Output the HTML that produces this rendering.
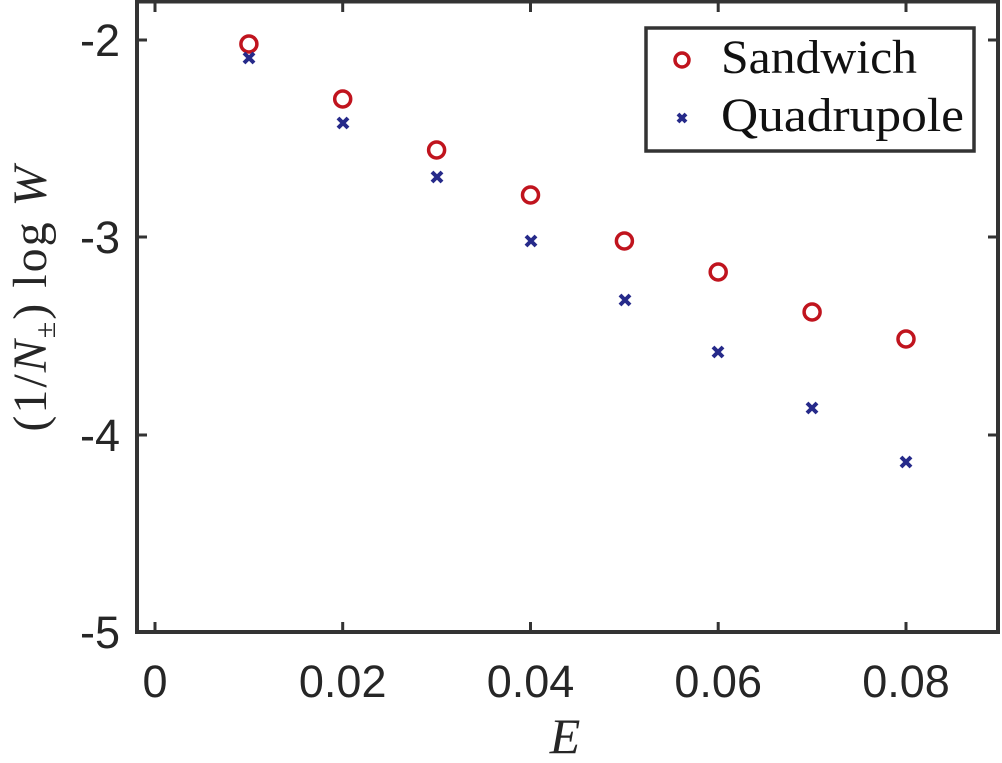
<!DOCTYPE html>
<html><head><meta charset="utf-8"><style>body{margin:0;background:#fff}</style></head><body>
<svg width="1002" height="758" xmlns="http://www.w3.org/2000/svg">
<g stroke="#333" stroke-width="4" fill="none">
<rect x="137" y="1.5" width="861" height="630.5"/>
</g>
<g stroke="#333" stroke-width="3">
<line x1="155" y1="632" x2="155" y2="622"/><line x1="342.7" y1="632" x2="342.7" y2="622"/><line x1="530.5" y1="632" x2="530.5" y2="622"/><line x1="718.2" y1="632" x2="718.2" y2="622"/><line x1="906" y1="632" x2="906" y2="622"/>
<line x1="155" y1="2" x2="155" y2="12"/><line x1="342.7" y1="2" x2="342.7" y2="12"/><line x1="530.5" y1="2" x2="530.5" y2="12"/><line x1="718.2" y1="2" x2="718.2" y2="12"/><line x1="906" y1="2" x2="906" y2="12"/>
<line x1="137" y1="40" x2="147" y2="40"/><line x1="137" y1="237" x2="147" y2="237"/><line x1="137" y1="435" x2="147" y2="435"/>
<line x1="998" y1="40" x2="988" y2="40"/><line x1="998" y1="237" x2="988" y2="237"/><line x1="998" y1="435" x2="988" y2="435"/>
</g>
<g font-family="Liberation Sans, sans-serif" font-size="45" fill="#262626" text-anchor="end">
<text x="120" y="56">-2</text><text x="120" y="253">-3</text><text x="120" y="451">-4</text><text x="120" y="648">-5</text>
</g>
<g font-family="Liberation Sans, sans-serif" font-size="45" fill="#262626" text-anchor="middle">
<text x="155" y="697">0</text><text x="342.7" y="697">0.02</text><text x="530.5" y="697">0.04</text><text x="718.2" y="697">0.06</text><text x="906" y="697">0.08</text>
</g>
<text x="565" y="753" font-family="Liberation Serif, serif" font-style="italic" font-size="50" fill="#262626" text-anchor="middle">E</text>
<text transform="translate(46,298) rotate(-90)" font-family="Liberation Serif, serif" font-size="48" fill="#262626" text-anchor="middle" letter-spacing="2">(1/<tspan font-style="italic">N</tspan><tspan font-size="30" dy="9">±</tspan><tspan dy="-9">) log </tspan><tspan font-style="italic">W</tspan></text>
<g fill="none" stroke="#c0141e" stroke-width="3.5">
<circle cx="248.9" cy="44" r="8"/><circle cx="342.7" cy="99" r="8"/><circle cx="436.6" cy="150" r="8"/><circle cx="530.5" cy="195" r="8"/><circle cx="624.4" cy="241" r="8"/><circle cx="718.2" cy="272" r="8"/><circle cx="812.1" cy="312" r="8"/><circle cx="906" cy="339" r="8"/>
<circle cx="682" cy="60" r="7"/>
</g>
<g stroke="#262a8a" stroke-width="4">
<path d="M244,53l10,10M254,53l-10,10"/>
<path d="M338,118l10,10M348,118l-10,10"/>
<path d="M432,172l10,10M442,172l-10,10"/>
<path d="M526,236l10,10M536,236l-10,10"/>
<path d="M620,295l10,10M630,295l-10,10"/>
<path d="M713,347l10,10M723,347l-10,10"/>
<path d="M807,403l10,10M817,403l-10,10"/>
<path d="M901,457l10,10M911,457l-10,10"/>
<path d="M678,114l8,8M686,114l-8,8"/>
</g>
<rect x="646" y="28" width="328" height="123" fill="none" stroke="#333" stroke-width="3.5"/>
<g font-family="Liberation Serif, serif" font-size="48" fill="#111">
<text x="721" y="73" textLength="196" lengthAdjust="spacingAndGlyphs">Sandwich</text><text x="721" y="131" textLength="243" lengthAdjust="spacingAndGlyphs">Quadrupole</text>
</g>
</svg>
</body></html>
